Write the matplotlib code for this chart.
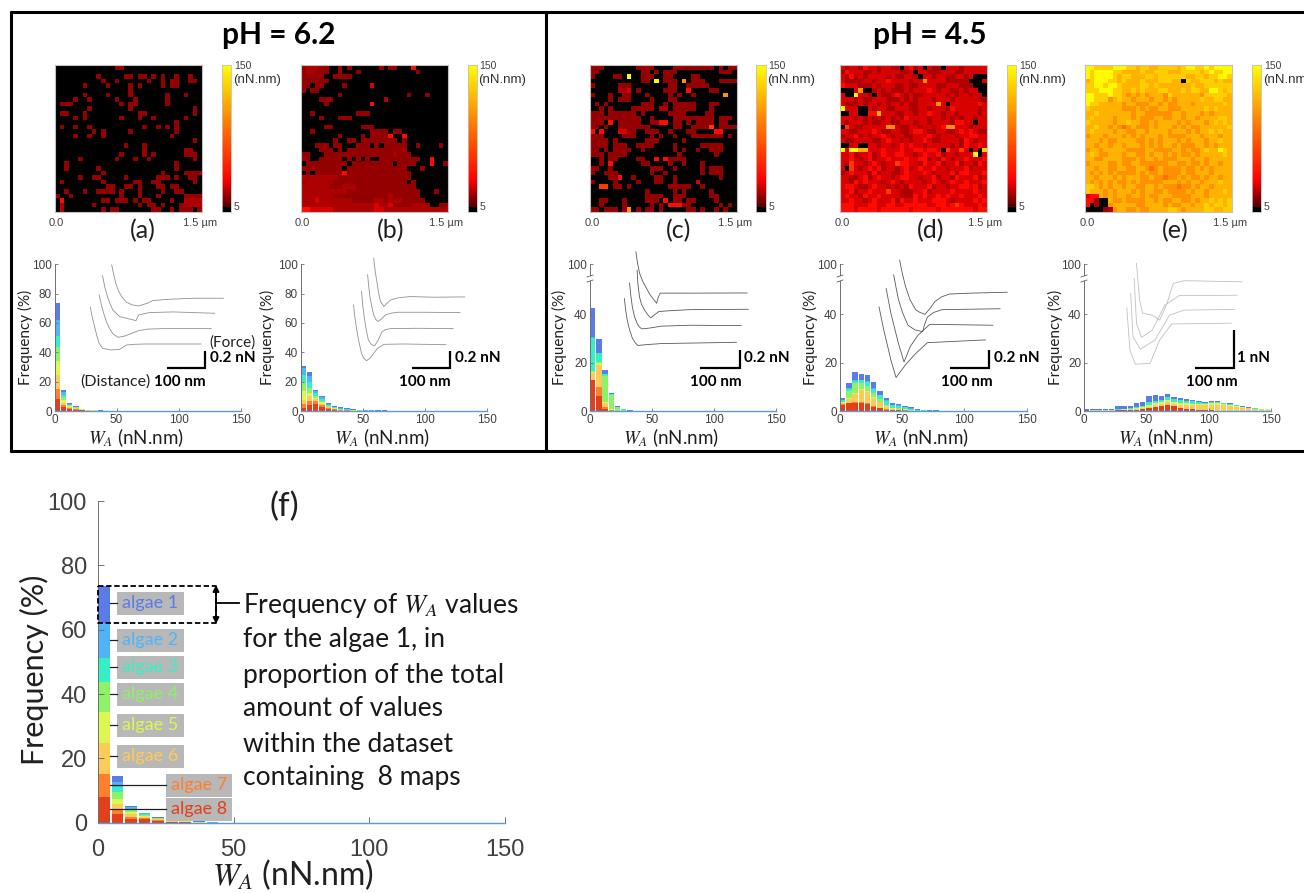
import matplotlib

matplotlib.use("Agg")
import matplotlib.pyplot as plt
import numpy as np
from matplotlib.cm import ScalarMappable
from matplotlib.colors import LinearSegmentedColormap, Normalize

plt.rcParams["font.family"] = ["Lato", "DejaVu Sans"]
plt.rcParams["mathtext.fontset"] = "stix"

FIG_W, FIG_H = 1304, 893
TICK_GRAY = "#404040"
SANS = ["Liberation Sans", "DejaVu Sans"]

# adhesion maps, one character per pixel, top row first
LEVELS = {".": 0, "1": 16, "2": 20, "3": 27, "4": 38, "5": 60, "o": 85, "6": 100, "7": 115, "8": 128, "9": 148}

MAP_A = [
    ".............11", "",
    ".........1.....11.11.1.1..1..1", "..........1..1......1..1.11..11",
    "......1....1....1.1....1.11", "................1",
    "......1....1....1.......1...1", "....1..1.....1...1......1",
    ".111..........1.11......1", ".......1........1.............1",
    ".11...1...........11..........1", "....1.1.......1...1..1......1",
    "..........................1", ".1..1..1...........1..1.1.1",
    "........1.1.....1.........1", "....1..1..1..............1",
    "..............................1", "...............1...1",
    "...................1........11", "..............1....1.1......111",
    ".....1.......1...1..1.........1", "..1.......................1",
    "..1......1................1", "..........1............1....1111",
    ".....1..11.....1......111.1..11", ".1........1......11..11.......1",
    "...........11..11.1...11.11", "..1...1..1111.1...1....1..11",
    "1..1..........1...1...1.....1111", ".4........11.111.1.11....1..2222",
    ".2......1.........1.11.1...12222", ".2........1.11.......11..1.111.1",
]
MAP_B = [
    "122211..1.1......1.11...4", "122111..1...1............1",
    "11111..1111", "111111",
    "11.11....1.....3", "1.11",
    "........1..............1...1", "....111...........2",
    ".....1.........4", "",
    "..1.........111", "....1...111",
    "", ".....11......111",
    "..1............1111.11", "........1....1.11114..4",
    ".......1..11.11111111.1", "...111.11...111.1.11111..1....1",
    "....111.1.1111111111112", "11...1111111111111112111",
    "11..11111.1.1.1..111111111..4", ".111111111.111111111.1111...4..1",
    "111111111.1111111111111...1", ".1.111111411111111111111",
    "222222221111111111111111", "12222221111111111111111.1",
    "2222221112221111111111111", "22222222221111111111111111...1",
    "22222221111111111112111111", "222322222221111122122211111",
    "2222222222222222322311112222..11", "44333332222222223322222222222222",
]
MAP_C = [
    "111.......1111....111111111.1.11", "11.........11.1.111.........111",
    "1....11.9..111..11....11", "...........11.9.111.6.111...1111",
    "1.....111........11..11111", "......223.1.....111..4....11",
    "1...1..11...1....1.1..1......6", "....1.111....1...11",
    ".1.1.......111..1.11111...11", "..1.1....11111.22.11111...1",
    "111.111111.1.....1111....11", "11111111111..1....111111111.111",
    "111.4.11111..1144.11.1.1111.11", "11.1..1111111.....11..11115.1111",
    "4.4...3311..111..1...11....44", "111....111...1.1..1...1111111.1",
    "1111.1......111.....1", "1111.111..1111....1.....11111",
    "11.1.1111..1......1.1..1..111", "111.1111...........1.......1",
    "..1.11....11..4.41111", "..1.4......11....1..1...1",
    "11..1........111..1.....1.111", "1..111.......1..1.......1.111",
    "....114..1....11..1.........1", "1....1....1...11..1....3",
    "..55.11.1........11111..1", "............1.....1.1.....1",
    "............1111..111.....11", "..11...1....111.4.11.11....1",
    "..1....1.....1.1.44411......1.1", "11.111.16.1.11.1.....11.1..1.1",
]
MAP_D = [
    "3233243323322.3423.322.333233333", "2433322323333223.33222333223333 3".replace(" ", ""),
    "32423233332322332.33233223323...", "3222233233433332336333322222 3...".replace(" 3...", "..."),
    "43332223233322322333322333222...", "...36..23232223233343233223233..",
    "3..9332.32234323223333323233233.", "33323223332223232333233323333322",
    "32223233232332322333363.33333343", "9333..32332233322332333243333323",
    "..33..44733322332334332332333323", "33323232323232433332332323233233",
    "32333232233223332332333324433.33", ".5322333336632233233234663332333",
    "33223334322332234432233223434322", "23342323343233223334323332334433",
    "32233332234332323343223333243233", "..33..33233234343323333323243343",
    "9399773334333433443443.53353.3.8", "334233423433443323433423323339.3",
    "33432342334333433442324323343334", "32533234323354433243342334233243",
    "3.532343423323423433433233342333", "23433324233223433343233342443334",
    "33223423433234433233423324333423", "33243433323432333323432343343334",
    "34432234332323243334233233443423", "33423343335332223342333343333433",
    "34332433433332224343343433433343", "33433234333424334333444323333434",
    "44433344334433444443344345433343", "44434444344444434444434444444344",
]
MAP_E = [
    "99888899988788778888789988989999", "98999988777787788877788887898899",
    "98999987887778878888887788788998", "789998878777877788877.8778887877",
    "88998998777788787777777877888888", "88899988778787778877787887799878",
    "99888988767676777687777776888887", "99888678776777677676777778778877",
    "98877777677666776766777677777787", "87777777666767667766677777878777",
    "77877777776776666667767776767777", "78777767776766677667767767777887",
    "87777767787766767777676777678787", "77877676o67666767776767667777778",
    "78777767766776777767776767787877", "67776777676767776766667776777677",
    "77767667777667676777676777677877", "77677677677767676776766677676777",
    "67767777766667766667767667877987", "78766777677667677676766767777787",
    "77667777666767767666777677677777", "67777667667766666677667667677677",
    "77677667766776o67666676676767777", "76767676666767667666676677767777",
    "77677767677766766o66767667677677", "76767676676766666777676776777877",
    "88767677677667767666o66767767777", "87776767776767766766667677677787",
    "34476767767767667776666777677777", "442..7667666677676677667677878787",
    "4.2..677777667777676677677878878", "....12677667667777887677778877 88".replace(" ", ""),
]

# stacked histogram heights (%) per 5 nN.nm bin, algae 1 on top of the stack
ALGAE_COLORS = ["#5a7ce8", "#4fb4fa", "#35f0c4", "#8cf268", "#dcf850", "#fdcc58", "#ff7f2c", "#e2401a"]
HIST_A = [
    [11.4, 1.6, 0.4, 0.2, 0.1, 0.2, 0.1, 0.1, 0.1],
    [10.9, 1.7, 0.5, 0.2, 0.1, 0.1, 0.1, 0.1, 0.1],
    [7.5, 1.6, 0.5, 0.3, 0.1, 0.1, 0.1],
    [9.5, 2.0, 0.6, 0.3, 0.2, 0.1, 0.1, 0.1],
    [9.6, 1.8, 0.6, 0.3, 0.2, 0.1, 0.1, 0.1],
    [9.7, 1.6, 0.7, 0.4, 0.2, 0.1, 0.1],
    [7.0, 1.4, 0.6, 0.4, 0.2, 0.1, 0.1],
    [8.0, 2.7, 1.3, 1.0, 0.6, 0.2, 0.1],
]
HIST_B = [
    [1.0, 2.5, 1.0, 0.5, 0.7, 0.6, 0.5, 0.4, 0.3, 0.3, 0.3, 0.4, 0.3, 0.3, 0.2, 0.2, 0.2, 0.1],
    [5.0, 4.0, 1.5, 1.5, 0.7, 0.5, 0.4, 0.3, 0.2, 0.1, 0.2, 0.2, 0.1, 0.1, 0.1],
    [5.0, 4.0, 1.5, 1.0, 0.7, 0.4, 0.3, 0.2, 0.1, 0.1, 0.1, 0.1, 0.1],
    [6.0, 4.0, 1.5, 1.0, 0.5, 0.3, 0.2, 0.2, 0.1, 0.1, 0.1, 0.1],
    [6.0, 2.0, 1.0, 1.0, 0.4, 0.3, 0.2, 0.2, 0.1, 0.1, 0.1],
    [2.5, 3.0, 1.5, 1.0, 0.5, 0.3, 0.2, 0.1, 0.1, 0.1],
    [2.7, 3.0, 1.5, 1.0, 0.5, 0.4, 0.3, 0.2, 0.1, 0.1],
    [2.3, 4.0, 5.0, 3.0, 1.5, 0.8, 0.3, 0.2, 0.1],
]
HIST_C = [
    [12.0, 6.0, 1.5, 0.3, 0.2, 0.2, 0.1],
    [0.5],
    [13.5, 3.5, 1.0, 0.5, 0.3, 0.2, 0.1],
    [0.5, 0.5, 10.5, 5.8, 1.5, 0.5, 0.1],
    [0.3, 0.8, 0.3, 0.2],
    [2.7, 9.0, 2.0, 0.2],
    [0.0, 4.0, 0.5, 0.1],
    [13.0, 6.0, 1.0, 0.2],
]
HIST_D = [
    [0.9, 2.0, 3.3, 2.2, 2.2, 2.4, 1.5, 0.9, 0.7, 0.6, 0.5, 0.4, 0.3, 0.1, 0.1, 0.1, 0.05, 0.05],
    [0.2, 0.3, 0.3, 0.3, 0.4, 0.4, 0.3, 0.3, 0.2, 0.2, 0.1, 0.1, 0.1, 0.1, 0.1, 0.1],
    [0.5, 1.0, 1.2, 1.0, 1.8, 1.6, 1.6, 1.8, 1.0, 1.0, 0.7, 0.5, 0.3, 0.2, 0.1, 0.1, 0.1],
    [0.2, 3.0, 4.0, 2.8, 2.0, 1.7, 1.0, 0.6, 0.2, 0.2, 0.2, 0.1, 0.1, 0.1],
    [0.2, 0.3, 0.4, 0.4, 0.4, 0.3, 0.3, 0.2, 0.1, 0.1, 0.1, 0.1],
    [0.8, 1.5, 3.2, 4.8, 4.8, 3.5, 2.3, 1.0, 0.5, 0.5, 0.3, 0.2, 0.1, 0.1],
    [0.3, 0.3, 0.3, 0.2, 0.2, 0.2, 0.1, 0.1, 0.1, 0.1, 0.1],
    [2.4, 3.2, 3.5, 3.5, 3.0, 1.8, 1.2, 0.6, 0.4, 0.3, 0.2, 0.1],
]
HIST_E = [
    [0.3, 0.3, 0.4, 0.5, 0.5, 1.0, 1.0, 1.0, 1.6, 1.8, 2.4, 2.4, 1.6, 1.3, 1.0, 1.0, 0.7, 0.6, 0.5, 0.4, 0.4, 0.4, 0.3, 0.3, 0.2, 0.2, 0.1, 0.1, 0.05, 0.05],
    [],
    [0.1, 0.1, 0.1, 0.1, 0.1, 0.3, 0.3, 0.3, 0.5, 0.6, 1.3, 1.0, 1.1, 1.4, 1.1, 1.1, 1.0, 1.0, 0.8, 0.6, 0.6, 0.5, 0.4, 0.3, 0.3, 0.2, 0.1, 0.1, 0.05, 0.05],
    [],
    [0.1, 0.0, 0.1, 0.1, 0.1, 0.2, 0.2, 0.2, 0.3, 0.4, 0.6, 0.7, 0.6, 0.9, 0.9, 0.8, 0.8, 0.7, 0.7, 0.6, 0.7, 0.7, 0.5, 0.4, 0.3, 0.2, 0.2, 0.1, 0.1, 0.1],
    [0.1, 0.1, 0.1, 0.1, 0.1, 0.1, 0.2, 0.3, 0.4, 0.4, 0.5, 0.7, 0.9, 1.0, 0.9, 1.2, 1.5, 1.7, 1.8, 1.9, 2.2, 2.4, 2.1, 2.0, 1.7, 1.3, 1.0, 0.8, 0.7, 0.5],
    [],
    [0.3, 0.2, 0.2, 0.2, 0.2, 0.3, 0.3, 0.4, 0.5, 0.7, 1.2, 1.8, 2.1, 2.6, 1.9, 1.3, 1.0, 0.7, 0.5, 0.4, 0.3, 0.2, 0.2, 0.2, 0.1, 0.1, 0.1, 0.1, 0.1, 0.1],
]

# force curves, (distance nm, force nN), top curve first
CURVES_A = [
    ([56, 62, 68, 75, 82, 95, 110, 127, 150, 164, 185, 209, 273, 350],
     [1.02, 0.89, 0.78, 0.70, 0.64, 0.572, 0.54, 0.528, 0.56, 0.592, 0.60, 0.608, 0.62, 0.62]),
    ([32, 38, 45, 52, 59, 77, 95, 120, 127, 155, 218, 327],
     [0.888, 0.75, 0.64, 0.55, 0.48, 0.40, 0.38, 0.352, 0.42, 0.448, 0.456, 0.44]),
    ([23, 29, 35, 42, 50, 60, 73, 91, 127, 150, 191, 318],
     [0.66, 0.54, 0.44, 0.34, 0.26, 0.19, 0.152, 0.168, 0.232, 0.25, 0.256, 0.256]),
    ([0, 5, 11, 17, 23, 32, 55, 77, 95, 115, 145, 291],
     [0.512, 0.39, 0.28, 0.17, 0.08, 0.02, 0, 0.008, 0.06, 0.068, 0.072, 0.072]),
]
CURVES_B = [
    ([55, 59, 64, 68, 73, 82, 90, 100, 120, 150, 214, 295],
     [1.1, 0.94, 0.8, 0.68, 0.58, 0.52, 0.56, 0.6, 0.625, 0.64, 0.632, 0.636]),
    ([39, 42, 45, 50, 55, 60, 66, 75, 86, 100, 118, 186, 282],
     [0.9, 0.76, 0.64, 0.52, 0.42, 0.37, 0.34, 0.37, 0.42, 0.44, 0.452, 0.452, 0.448]),
    ([23, 26, 30, 35, 41, 48, 57, 66, 77, 87, 100, 168, 264],
     [0.7, 0.54, 0.4, 0.25, 0.12, 0.07, 0.048, 0.11, 0.22, 0.245, 0.256, 0.26, 0.256]),
    ([2, 5, 9, 15, 23, 29, 36, 45, 55, 65, 82, 132, 245],
     [0.54, 0.41, 0.28, 0.12, -0.04, -0.1, -0.128, -0.1, -0.04, 0.02, 0.068, 0.072, 0.064]),
]
CURVES_C = [
    ([29, 33, 38, 46, 56, 65, 74, 81, 85, 90, 110, 154, 309],
     [1.07, 0.95, 0.84, 0.75, 0.67, 0.6, 0.55, 0.51, 0.57, 0.62, 0.62, 0.62, 0.622]),
    ([32, 34, 38, 43, 50, 58, 66, 75, 87, 120, 166, 312],
     [0.87, 0.72, 0.58, 0.5, 0.44, 0.39, 0.35, 0.38, 0.42, 0.43, 0.44, 0.444]),
    ([13, 16, 20, 25, 32, 38, 44, 65, 93, 166, 294],
     [0.73, 0.6, 0.47, 0.37, 0.29, 0.25, 0.23, 0.24, 0.26, 0.27, 0.266]),
    ([0, 3, 7, 13, 20, 27, 34, 60, 93, 282],
     [0.56, 0.44, 0.33, 0.22, 0.13, 0.08, 0.05, 0.06, 0.07, 0.084]),
]
CURVES_D = [
    ([52, 59, 67, 78, 92, 103, 116, 128, 141, 158, 177, 230, 323],
     [0.98, 0.83, 0.69, 0.55, 0.44, 0.41, 0.39, 0.45, 0.53, 0.58, 0.61, 0.62, 0.63]),
    ([37, 43, 49, 60, 73, 90, 110, 115, 122, 138, 159, 305],
     [0.82, 0.68, 0.55, 0.4, 0.27, 0.22, 0.2, 0.28, 0.36, 0.41, 0.44, 0.45]),
    ([18, 30, 49, 63, 79, 98, 128, 287], [0.67, 0.4, 0.07, -0.13, 0.04, 0.16, 0.28, 0.27]),
    ([0, 12, 30, 43, 67, 92, 122, 268], [0.47, 0.22, -0.11, -0.3, -0.16, -0.04, 0.08, 0.11]),
]
CURVES_E = [
    ([25, 33, 41, 66, 85, 104, 120, 148, 298], [2.26, 1.3, 0.96, 0.91, 0.78, 1.22, 1.74, 1.81, 1.78]),
    ([19, 25, 38, 66, 98, 135, 285], [1.87, 0.7, 0.33, 0.52, 1.17, 1.42, 1.43]),
    ([10, 16, 35, 73, 110, 148, 279], [1.48, 0.35, 0.02, 0.26, 0.91, 1.04, 1.06]),
    ([0, 8, 22, 60, 85, 116, 270], [1.1, 0, -0.37, -0.35, 0.26, 0.68, 0.7]),
]

ALGAE_NAMES = ["algae 1", "algae 2", "algae 3", "algae 4", "algae 5", "algae 6", "algae 7", "algae 8"]
ALGAE_TEXT = ["#5a7ce8", "#4fb4fa", "#35f0c4", "#8cf268", "#dcf850", "#fdcc58", "#ff7f2c", "#e2401a"]
NOTE_LINES = ["Frequency of $W_A$ values", "for the algae 1, in", "proportion of the total",
              "amount of values", "within the dataset", "containing  8 maps"]

PANELS = [
    dict(tag="(a)", grid=MAP_A, fill=".", map_x=54.6, bar_x=222, hist=HIST_A, hist_x=(54.6, 240.5), broken=False,
         curves=CURVES_A, origin=(90.4, 350), px_nm=0.38, px_nn=83.5, line="#909090",
         bar_right=205, bar_nm=100, bar_nn=0.2, nn_text="0.2 nN", nn_x=209.6, nm_x=179.5, ylab_x=25, tag_x=142.5),
    dict(tag="(b)", grid=MAP_B, fill=".", map_x=300.7, bar_x=467.5, hist=HIST_B, hist_x=(300.7, 487.3), broken=False,
         curves=CURVES_B, origin=(352.8, 350), px_nm=0.38, px_nn=83.5, line="#909090",
         bar_right=450, bar_nm=100, bar_nn=0.2, nn_text="0.2 nN", nn_x=454.6, nm_x=424.8, ylab_x=267.6, tag_x=391),
    dict(tag="(c)", grid=MAP_C, fill=".", map_x=590, bar_x=756.5, hist=HIST_C, hist_x=(590, 776), broken=True,
         curves=CURVES_C, origin=(624.4, 350), px_nm=0.397, px_nn=91.7, line="#585858",
         bar_right=739.6, bar_nm=100, bar_nn=0.2, nn_text="0.2 nN", nn_x=743.5, nm_x=715.4, ylab_x=559.5, tag_x=679),
    dict(tag="(d)", grid=MAP_D, fill="3", map_x=840, bar_x=1007, hist=HIST_D, hist_x=(840, 1026.6), broken=True,
         curves=CURVES_D, origin=(879, 350), px_nm=0.397, px_nn=91.7, line="#585858",
         bar_right=989.3, bar_nm=100, bar_nn=0.2, nn_text="0.2 nN", nn_x=993.7, nm_x=967, ylab_x=810, tag_x=931),
    dict(tag="(e)", grid=MAP_E, fill="7", map_x=1085, bar_x=1252, hist=HIST_E, hist_x=(1084, 1271), broken=True,
         curves=CURVES_E, origin=(1126.8, 350), px_nm=0.387, px_nn=38.3, line="#c0c0c0",
         bar_right=1233.8, bar_nm=100, bar_nn=1.0, nn_text="1 nN", nn_x=1237, nm_x=1212, ylab_x=1055, tag_x=1175),
]

cmap = LinearSegmentedColormap.from_list(
    "adhesion",
    [(0, "#000000"), (0.033, "#000000"), (0.0335, "#500000"), (0.22, "#ff0000"), (0.65, "#ff8c00"), (1, "#ffff00")],
    N=1024,
)
norm = Normalize(0, 150)


def px_axes(fig, x0, y0, x1, y1):
    return fig.add_axes([x0 / FIG_W, 1 - y1 / FIG_H, (x1 - x0) / FIG_W, (y1 - y0) / FIG_H])


def decode(rows, fill):
    return np.array([[LEVELS[c] for c in r.ljust(32, fill)[:32]] for r in rows], dtype=float)


def draw_hist(ax, hist):
    bottom = np.zeros(30)
    for heights, color in reversed(list(zip(hist, ALGAE_COLORS))):
        vals = np.zeros(30)
        vals[: len(heights)] = heights
        ax.bar(np.arange(30) * 5, vals, width=4.3, align="edge", bottom=bottom, color=color, linewidth=0)
        bottom += vals
    ax.axhline(0, color="#5b9ad8", lw=1.0, clip_on=False, zorder=3)
    ax.set_xlim(0, 150)
    ax.patch.set_alpha(0)
    for side in ["top", "right"]:
        ax.spines[side].set_visible(False)
    for side in ["left", "bottom"]:
        ax.spines[side].set_color("#707070")
        ax.spines[side].set_linewidth(0.7)


fig = plt.figure(figsize=(FIG_W / 100, FIG_H / 100), dpi=100)

for p in PANELS:
    # map + colorbar
    ax_map = px_axes(fig, p["map_x"], 65, p["map_x"] + 147, 212)
    ax_map.imshow(decode(p["grid"], p["fill"]), cmap=cmap, norm=norm, aspect="auto", interpolation="nearest")
    ax_map.set_xticks([])
    ax_map.set_yticks([])
    for s in ax_map.spines.values():
        s.set_color("#c0c0c0")
        s.set_linewidth(0.8)

    cax = px_axes(fig, p["bar_x"], 65, p["bar_x"] + 9, 212)
    cb = fig.colorbar(ScalarMappable(norm=norm, cmap=cmap), cax=cax)
    cb.set_ticks([])
    cb.outline.set_edgecolor("#c0c0c0")
    cb.outline.set_linewidth(0.6)

    # histogram
    ax = px_axes(fig, p["hist_x"][0], 264.3, p["hist_x"][1], 411)
    draw_hist(ax, p["hist"])
    if p["broken"]:
        ax.set_ylim(0, 60.7)
        ax.set_yticks([0, 20, 40, 60.7], ["0", "20", "40", "100"])
    else:
        ax.set_ylim(0, 100)
        ax.set_yticks([0, 20, 40, 60, 80, 100])
    ax.set_xticks([0, 50, 100, 150])
    ax.tick_params(direction="in", length=2.5, width=0.6, color="#707070", labelcolor=TICK_GRAY,
                   labelsize=8.5, pad=2)
    for lab in ax.get_xticklabels() + ax.get_yticklabels():
        lab.set_fontfamily(SANS)

    # force curve inset
    ax_in = px_axes(fig, p["origin"][0] - 20, 250, p["origin"][0] + 160, 400)
    ax_in.set_xlim(-20 / p["px_nm"], 160 / p["px_nm"])
    ax_in.set_ylim(-50 / p["px_nn"], 100 / p["px_nn"])
    ax_in.axis("off")
    for dist, force in p["curves"]:
        ax_in.plot(dist, force, color=p["line"], lw=0.6)

page = fig.add_axes([0, 0, 1, 1], zorder=10)
page.set_xlim(0, FIG_W)
page.set_ylim(FIG_H, 0)
page.axis("off")

# frames
frame = dict(color="black", lw=2.2, solid_capstyle="butt")
page.plot([10, FIG_W], [12, 12], **frame)
page.plot([10, FIG_W], [451, 451], **frame)
page.plot([10.5, 10.5], [11, 452], **frame)
page.plot([546, 546], [11, 452], **frame)

page.text(279, 35, "pH = 6.2", fontsize=21.5, fontweight="bold", ha="center", va="center")
page.text(930, 35, "pH = 4.5", fontsize=21.5, fontweight="bold", ha="center", va="center")

for p in PANELS:
    mx = p["map_x"]
    page.text(mx + 2, 223.5, "0.0", fontsize=8, color=TICK_GRAY, family=SANS, ha="center", va="center")
    page.text(mx + 145, 223.5, "1.5 µm", fontsize=8, color=TICK_GRAY, family=SANS, ha="center", va="center")
    page.text(p["tag_x"], 231, p["tag"], fontsize=18, color="#202020", ha="center", va="center")
    bx = p["bar_x"] + 12
    page.text(bx, 66, "150", fontsize=7.5, color=TICK_GRAY, family=SANS, va="center")
    page.text(bx, 207.5, "5", fontsize=7.5, color=TICK_GRAY, family=SANS, va="center")
    page.text(bx - 1, 80, "(nN.nm)", fontsize=9.5, color="#303030", family=SANS, va="center")
    page.text(p["ylab_x"], 337, "Frequency (%)", fontsize=11, color="#202020", rotation=90, ha="center", va="center")
    x_mid = sum(p["hist_x"]) / 2 - 12
    page.text(x_mid, 438, "$W_A$ (nN.nm)", fontsize=13.5, color="#202020", ha="center", va="center")

    # scale bars
    r = p["bar_right"]
    page.plot([r - p["bar_nm"] * p["px_nm"], r], [368, 368], color="black", lw=1.6, solid_capstyle="butt")
    page.plot([r, r], [368 + 0.5, 368 - p["bar_nn"] * p["px_nn"]], color="black", lw=1.6, solid_capstyle="butt")
    page.text(p["nn_x"], 358, p["nn_text"], fontsize=11, fontweight="bold", va="center")
    page.text(p["nm_x"], 381.7, "100 nm", fontsize=11, fontweight="bold", ha="center", va="center")

    if p["broken"]:
        x0 = p["hist_x"][0]
        page.fill_between([x0 - 2, x0 + 2], 276, 281, color="white", lw=0)
        page.plot([x0 - 3, x0 + 3], [277, 275], color="#606060", lw=0.6)
        page.plot([x0 - 3, x0 + 3], [282, 280], color="#606060", lw=0.6)

page.text(209, 342.7, "(Force)", fontsize=11, color="#202020", va="center")
page.text(80.6, 381.7, "(Distance)", fontsize=11.5, color="#202020", va="center")

# panel f
ax_f = px_axes(fig, 98, 501, 505, 822.7)
draw_hist(ax_f, HIST_A)
ax_f.set_ylim(0, 100)
ax_f.set_yticks([0, 20, 40, 60, 80, 100])
ax_f.set_xticks([0, 50, 100, 150])
ax_f.tick_params(direction="in", length=4, width=0.7, color="#707070", labelcolor=TICK_GRAY, labelsize=17)
ax_f.tick_params(axis="x", pad=12)
ax_f.tick_params(axis="y", pad=8)
for lab in ax_f.get_xticklabels() + ax_f.get_yticklabels():
    lab.set_fontfamily(SANS)

page.text(284, 507, "(f)", fontsize=24, color="#202020", ha="center", va="center")
page.text(34.4, 670, "Frequency (%)", fontsize=22, color="#202020", rotation=90, ha="center", va="center")
page.text(292.7, 875, "$W_A$ (nN.nm)", fontsize=23, color="#202020", ha="center", va="center")

box_rows = [(117, 592), (117, 629), (117, 656), (117, 683), (117, 714), (117, 745), (165.6, 774), (165.6, 798)]
for name, color, (bx, by) in zip(ALGAE_NAMES, ALGAE_TEXT, box_rows):
    bw = 66.5
    bh = 22.5
    page.fill_between([bx, bx + bw], by, by + bh, color="#b8b8b8", lw=0)
    page.plot([109.5, bx], [by + bh / 2, by + bh / 2], color="#202020", lw=0.9)
    page.text(bx + bw / 2, by + bh / 2, name, fontsize=13, color=color, ha="center", va="center")

page.plot([98, 216, 216, 98, 98], [586, 586, 622.7, 622.7, 586], color="black", lw=1.3, linestyle=(0, (3, 1.5)))
page.annotate("", xy=(216, 585), xytext=(216, 624),
              arrowprops=dict(arrowstyle="<|-|>", color="black", lw=1.3, mutation_scale=9, shrinkA=0, shrinkB=0))
page.plot([216, 239], [603, 603], color="black", lw=1.3)

for line, y in zip(NOTE_LINES, [605, 640, 675, 709, 744, 778]):
    page.text(243, y, line, fontsize=19, color="#181818", va="center")

fig.savefig("out.png", dpi=100)
plt.close(fig)
